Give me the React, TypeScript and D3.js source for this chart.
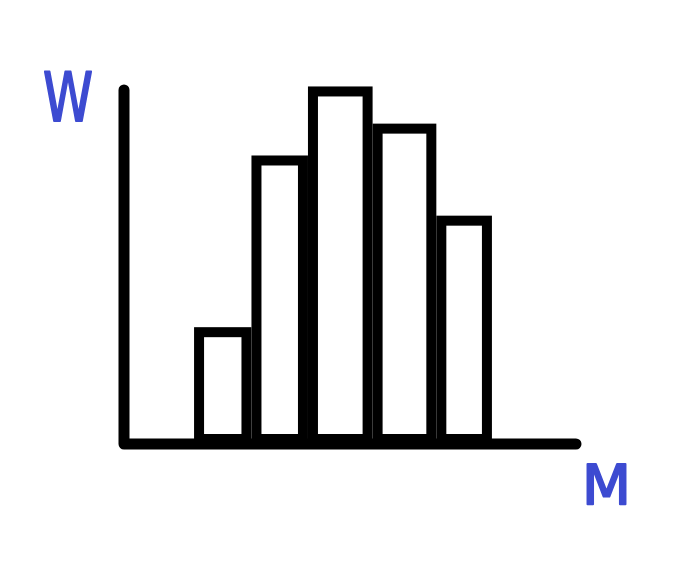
import React from "react";
import * as d3 from "d3";

// Histogram bin edges (in M units) and bar heights (in W units)
const binEdges = [1.55, 2.82, 4.07, 5.5, 6.91, 8.14];
const barValues = [33, 81.5, 101, 90.5, 64.5];
const xLabel = "M";
const yLabel = "W";

const W = 696;
const H = 564;
const INK = "#000000";
const BLUE = "#3d4bd1";
const STROKE = 10;

export default function App() {
  const x = d3.scaleLinear().domain([0, 10]).range([124, 576]);
  const y = d3.scaleLinear().domain([0, 100]).range([444, 90]);

  const bins = barValues.map((v, i) => ({ x0: binEdges[i], x1: binEdges[i + 1], v }));

  const axisPath = d3.path();
  axisPath.moveTo(x(0), y(100));
  axisPath.lineTo(x(0), y(0));
  axisPath.lineTo(x(10), y(0));

  return (
    <svg
      width={W}
      height={H}
      viewBox={`0 0 ${W} ${H}`}
      style={{ position: "absolute", left: 0, top: 0, background: "#fff" }}
    >
      <rect x={0} y={0} width={W} height={H} fill="#fff" />
      {bins.map((b, i) => {
        const x0 = x(b.x0) + STROKE / 2;
        const x1 = x(b.x1) - STROKE / 2;
        const top = y(b.v) + STROKE / 2;
        const bottom = y(0) - STROKE / 2;
        return (
          <rect
            key={i}
            x={x0}
            y={top}
            width={x1 - x0}
            height={bottom - top}
            fill="#fff"
            stroke={INK}
            strokeWidth={STROKE}
          />
        );
      })}
      <path
        d={axisPath.toString()}
        fill="none"
        stroke={INK}
        strokeWidth={11}
        strokeLinecap="round"
        strokeLinejoin="round"
      />
      <text
        x={43}
        y={121}
        fontFamily="DejaVu Sans"
        fontSize={68}
        fill={BLUE}
        stroke={BLUE}
        strokeWidth={2}
        strokeLinejoin="round"
        textLength={50}
        lengthAdjust="spacingAndGlyphs"
      >
        {yLabel}
      </text>
      <text
        x={582}
        y={504}
        fontFamily="DejaVu Sans"
        fontSize={55}
        fill={BLUE}
        stroke={BLUE}
        strokeWidth={2}
        strokeLinejoin="round"
        textLength={49}
        lengthAdjust="spacingAndGlyphs"
      >
        {xLabel}
      </text>
    </svg>
  );
}
